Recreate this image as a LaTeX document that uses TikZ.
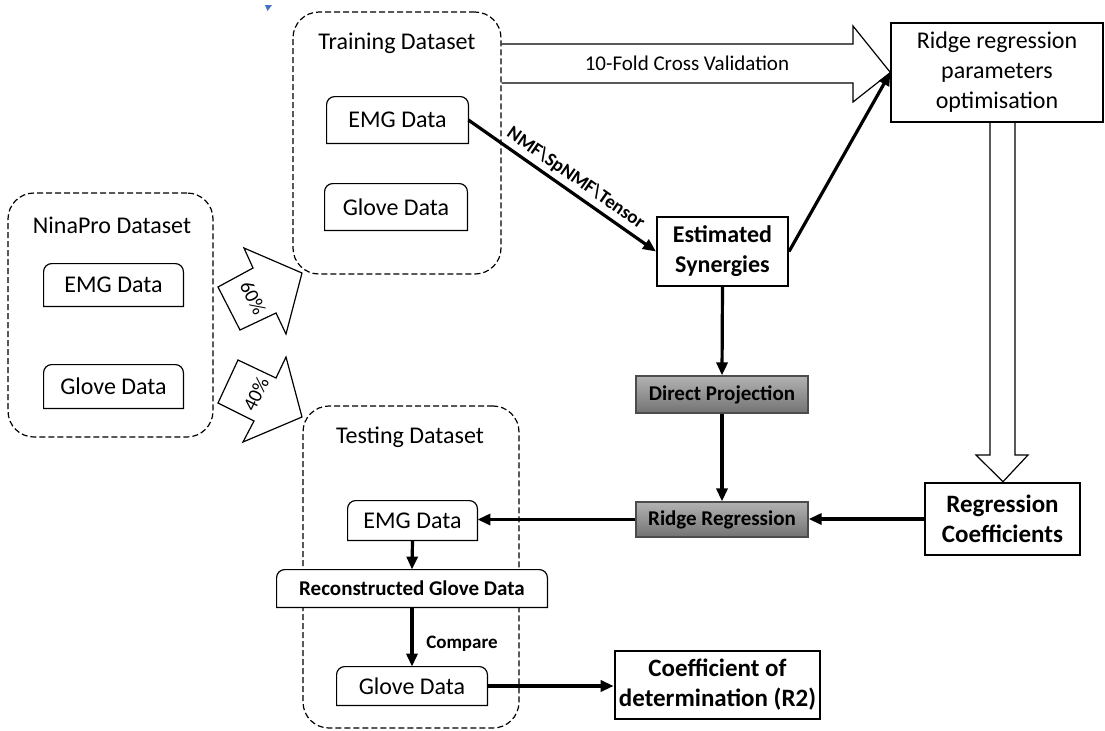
\documentclass[tikz,border=0pt]{standalone}
\usepackage{fontspec}
\setmainfont{Carlito}
\usepackage{tikz}
\usetikzlibrary{shapes, positioning, calc, arrows.meta}
\definecolor{markblue}{HTML}{4472C4}

% box with rounded top corners only
\newcommand{\roundtop}[1]{%
  \draw[line width=0.6pt] (#1.south west) -- ([yshift=-4pt]#1.north west)
    arc[start angle=180, end angle=90, radius=4pt]
    -- ([xshift=-4pt]#1.north east)
    arc[start angle=90, end angle=0, radius=4pt]
    -- (#1.south east) -- cycle;}

\begin{document}
\begin{tikzpicture}[x=0.5pt, y=-0.5pt,
    dataset/.style={draw, line width=0.6pt,
      dash pattern=on 3pt off 1.5pt,
      rounded corners=13pt,
      inner sep=0pt},
    datatitle/.style={font=\fontsize{12}{14}\selectfont},
    databox/.style={inner sep=0pt,
      font=\fontsize{12}{14}\selectfont,
      align=center},
    resultbox/.style={draw, inner sep=0pt,
      align=center,
      font=\bfseries\fontsize{12.5}{15}\selectfont},
    graybox/.style={draw=black!70, line width=0.6pt,
      top color=black!30, bottom color=black!55,
      inner sep=0pt,
      minimum width=86pt,
      font=\bfseries\fontsize{10.5}{12}\selectfont},
    flow/.style={line width=1.6pt,
      -{Triangle[length=6.5pt, width=5.5pt]}},
    blockarrow/.style={draw, line width=0.6pt, fill=white, line join=miter}]

  \useasboundingbox (0,0) rectangle (1105,730);

  % DATASETS

  \node[dataset, minimum width=102.5pt, minimum height=122pt]
    (ninapro) at (110.5,315) {};
  \node[datatitle] (ninatitle) at (112,225) {NinaPro Dataset};
  \node[databox, minimum width=69.5pt, minimum height=21pt]
    (ninaemg) at (113.5,285) {EMG Data};
  \node[databox, minimum width=69.5pt, minimum height=21.5pt]
    (ninaglove) at (113.5,386.5) {Glove Data};

  \node[dataset, minimum width=104pt, minimum height=131pt]
    (training) at (397,143) {};
  \node[datatitle] (traintitle) at (397,43) {Training Dataset};
  \node[databox, minimum width=70.5pt, minimum height=23pt]
    (trainemg) at (397.5,120) {EMG Data};
  \node[databox, minimum width=71pt, minimum height=23pt]
    (trainglove) at (396,207) {Glove Data};

  \node[dataset, minimum width=108pt, minimum height=161pt]
    (testing) at (411,567) {};
  \node[datatitle] (testtitle) at (410,437) {Testing Dataset};
  \node[databox, minimum width=64.5pt, minimum height=19.5pt]
    (testemg) at (412.5,520.5) {EMG Data};
  \node[databox, minimum width=135pt, minimum height=18.5pt,
    fill=white, font=\bfseries\fontsize{10.5}{12}\selectfont]
    (recon) at (412,588.5) {Reconstructed Glove Data};
  \node[databox, minimum width=75pt, minimum height=19pt]
    (testglove) at (412,686) {Glove Data};

  \foreach \b in {ninaemg, ninaglove, trainemg, trainglove,
                  testemg, recon, testglove} {
    \roundtop{\b}
  }

  % SPLIT ARROWS

  \draw[blockarrow] (218,287) -- (253,268) -- (244,248) -- (302,273)
    -- (286,334) -- (276,313) -- (240,330) -- cycle;
  \node[rotate=-64, font=\fontsize{10}{12}\selectfont]
    (sixty) at (253,298) {60\%};

  \draw[blockarrow] (238,360) -- (276,378) -- (286,357) -- (302,417)
    -- (243,442) -- (254,421) -- (218,403) -- cycle;
  \node[rotate=64, font=\fontsize{10}{12}\selectfont]
    (forty) at (256,394) {40\%};

  % PROCESSING

  \node[draw, line width=0.6pt, minimum width=106pt, minimum height=49.5pt,
    inner sep=0pt, align=center,
    font=\fontsize{12}{15}\selectfont]
    (params) at (997,72.5) {Ridge regression\\parameters\\optimisation};

  \node[resultbox, line width=1pt, minimum width=65.5pt, minimum height=34.5pt,
    font=\bfseries\fontsize{12}{15}\selectfont]
    (synergies) at (722.5,251.5) {Estimated\\Synergies};

  \node[graybox, minimum height=18.5pt] (direct) at (722,394.5)
    {Direct Projection};
  \node[graybox, minimum height=17.5pt] (ridge) at (722,519.5)
    {Ridge Regression};

  \node[resultbox, line width=1.3pt, minimum width=77.5pt, minimum height=36pt]
    (coeffs) at (1002.5,519) {Regression\\Coefficients};

  \node[resultbox, line width=1.3pt, minimum width=102.5pt, minimum height=34pt]
    (rsquared) at (717.5,685) {Coefficient of\\determination (R2)};

  % OPEN ARROWS

  \draw[line width=0.6pt, line join=miter] (training.east |- 0,44)
    -- (853,44) -- (853,26) -- (params.west) -- (853,102) -- (853,83)
    -- (training.east |- 0,83);
  \node[font=\fontsize{10.5}{12}\selectfont] (cv) at (687,63)
    {10-Fold Cross Validation};

  \draw[line width=0.6pt, line join=miter] (params.south -| 990,0)
    -- (990,455) -- (976,455) -- (coeffs.north -| 1003,0) -- (1028,455)
    -- (1015,455) -- (params.south -| 1015,0);

  % CONNECTORS

  \draw[flow] (trainemg.east) -- node[sloped, above, pos=0.53, inner sep=2pt,
    font=\bfseries\fontsize{9.5}{11}\selectfont]
    {NMF\textbackslash SpNMF\textbackslash Tensor} (synergies.west);
  \draw[flow] (synergies.east) -- (params.west);
  \draw[flow] (synergies.south) -- (direct.north);
  \draw[flow] (direct.south) -- (ridge.north);
  \draw[flow] (coeffs.west) -- (coeffs.west -| ridge.east);
  \draw[flow] (ridge.west) -- (ridge.west -| testemg.east);
  \draw[flow] (testemg.south) -- (recon.north);
  \draw[flow] (recon.south) -- node[right=3pt, pos=0.62,
    font=\bfseries\fontsize{9.5}{11}\selectfont] (compare) {Compare}
    (testglove.north);
  \draw[flow] (testglove.east) -- (testglove.east -| rsquared.west);

  % marker
  \fill[markblue] (265,5) -- (272,5) -- (267.5,11) -- cycle;

\end{tikzpicture}
\end{document}
